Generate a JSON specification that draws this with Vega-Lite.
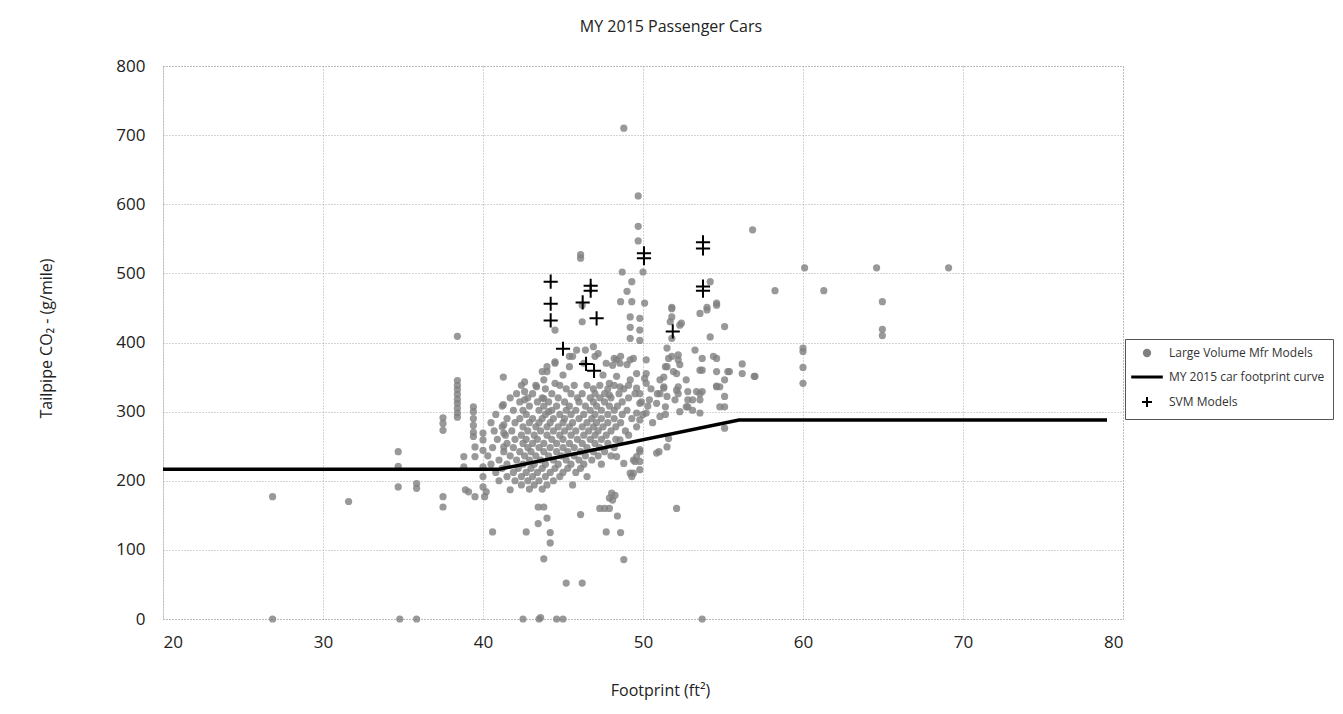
{
  "$schema": "https://vega.github.io/schema/vega-lite/v6.json",
  "width": 960,
  "height": 553,
  "autosize": {"type": "none"},
  "padding": {"left": 163, "top": 66, "right": 220, "bottom": 95},
  "background": "white",
  "config": {
    "view": {"stroke": "#9a9a9a", "strokeDash": [1, 2], "strokeWidth": 1},
    "axis": {
      "grid": true, "gridColor": "#a8a8a8", "gridDash": [1, 2], "gridWidth": 1,
      "ticks": false, "domain": false,
      "labelFont": "Open Sans", "labelFontSize": 17, "labelColor": "#222",
      "titleFont": "Open Sans", "titleFontSize": 16, "titleFontWeight": "normal", "titleColor": "#222"
    },
    "legend": {
      "title": null, "orient": "none", "legendX": 962, "legendY": 273,
      "padding": 8, "strokeColor": "#555", "fillColor": "white",
      "labelFont": "Open Sans", "labelFontSize": 12, "labelColor": "#333", "labelOffset": 16,
      "symbolOffset": 8, "rowPadding": 10
    },
    "title": {"font": "Open Sans", "fontSize": 16, "fontWeight": "normal", "color": "#222"}
  },
  "title": {"text": "MY 2015 Passenger Cars", "offset": 22, "dx": 28},
  "datasets": {
    "lv": [
      {"x":26.85,"y":177},{"x":26.85,"y":0},{"x":31.6,"y":170},{"x":34.7,"y":242},{"x":34.7,"y":221},{"x":34.7,"y":191},{"x":34.8,"y":0},{"x":35.85,"y":0},{"x":35.85,"y":196},{"x":35.85,"y":189},
      {"x":37.5,"y":177},{"x":37.5,"y":162},{"x":37.5,"y":291},{"x":37.5,"y":283},{"x":37.5,"y":273},
      {"x":38.4,"y":409},{"x":38.4,"y":345},{"x":38.4,"y":338},{"x":38.4,"y":332},{"x":38.4,"y":325},{"x":38.4,"y":318},{"x":38.4,"y":312},{"x":38.4,"y":305},{"x":38.4,"y":298},{"x":38.4,"y":292},
      {"x":38.8,"y":235},{"x":38.8,"y":220},{"x":38.9,"y":187},{"x":39.1,"y":184},
      {"x":39.4,"y":307},{"x":39.4,"y":300},{"x":39.4,"y":290},{"x":39.4,"y":280},{"x":39.4,"y":270},{"x":39.4,"y":264},
      {"x":39.5,"y":249},{"x":39.5,"y":235},{"x":39.5,"y":177},{"x":40.0,"y":269},{"x":40.0,"y":259},{"x":40.0,"y":244},{"x":40.0,"y":220},{"x":40.0,"y":206},{"x":40.0,"y":191},{"x":40.2,"y":184},{"x":40.1,"y":177},
      {"x":40.6,"y":126},{"x":41.27,"y":350},{"x":41.27,"y":310},{"x":41.3,"y":281},{"x":41.3,"y":269},{"x":41.3,"y":249},{"x":41.7,"y":187},
      {"x":42.6,"y":343},{"x":42.6,"y":317},{"x":43.35,"y":336},{"x":43.8,"y":319},{"x":43.7,"y":358},{"x":44.0,"y":365},{"x":44.5,"y":418},{"x":44.5,"y":370},{"x":44.1,"y":300},
      {"x":42.7,"y":126},{"x":43.45,"y":162},{"x":43.8,"y":162},{"x":43.45,"y":138},{"x":44.0,"y":146},{"x":44.2,"y":125},{"x":44.2,"y":110},{"x":43.8,"y":87},{"x":45.2,"y":52},{"x":46.2,"y":52},{"x":46.1,"y":151},
      {"x":47.3,"y":160},{"x":47.6,"y":160},{"x":47.9,"y":160},{"x":48.1,"y":172},{"x":47.9,"y":175},{"x":48.25,"y":179},{"x":48.4,"y":149},{"x":47.7,"y":126},{"x":48.6,"y":125},{"x":48.8,"y":86},
      {"x":42.5,"y":0},{"x":43.5,"y":0},{"x":43.6,"y":2},{"x":44.6,"y":0},{"x":45.0,"y":0},{"x":53.7,"y":0},{"x":52.1,"y":160},{"x":51.0,"y":242},{"x":49.8,"y":242},{"x":49.5,"y":228},{"x":49.8,"y":228},{"x":49.4,"y":211},{"x":49.3,"y":206},{"x":48.04,"y":182},
      {"x":48.8,"y":710},{"x":49.7,"y":612},{"x":49.7,"y":568},{"x":49.7,"y":547},{"x":46.1,"y":522},{"x":46.1,"y":527},{"x":48.7,"y":502},{"x":50.0,"y":502},{"x":49.3,"y":488},{"x":49.0,"y":474},{"x":49.3,"y":459},{"x":48.6,"y":459},{"x":50.1,"y":457},{"x":51.8,"y":451},{"x":54.0,"y":451},{"x":54.6,"y":457},{"x":54.2,"y":488},{"x":56.85,"y":563},
      {"x":49.2,"y":437},{"x":49.8,"y":435},{"x":49.8,"y":418},{"x":49.2,"y":422},{"x":49.2,"y":406},{"x":49.8,"y":403},{"x":51.8,"y":449},{"x":51.8,"y":437},{"x":51.7,"y":430},{"x":52.4,"y":428},{"x":52.3,"y":425},{"x":51.8,"y":406},
      {"x":51.5,"y":392},{"x":51.8,"y":380},{"x":52.2,"y":382},{"x":51.5,"y":365},{"x":51.3,"y":350},{"x":52.1,"y":355},{"x":52.3,"y":368},
      {"x":53.25,"y":389},{"x":53.7,"y":377},{"x":53.7,"y":360},{"x":54.6,"y":377},{"x":54.6,"y":358},{"x":54.6,"y":336},{"x":55.1,"y":346},{"x":54.0,"y":447},{"x":54.6,"y":454},{"x":54.2,"y":408},{"x":55.1,"y":423},{"x":53.56,"y":442},{"x":54.4,"y":380},{"x":55.3,"y":358},
      {"x":56.2,"y":369},{"x":56.2,"y":355},{"x":57.0,"y":351},{"x":55.4,"y":358},
      {"x":46.2,"y":430},{"x":46.2,"y":454},{"x":46.9,"y":394},{"x":46.4,"y":389},{"x":45.85,"y":389},{"x":45.4,"y":380},{"x":47.2,"y":384},{"x":48.2,"y":377},{"x":48.6,"y":380},{"x":49.2,"y":375},{"x":47.7,"y":370},{"x":48.1,"y":367},
      {"x":44.0,"y":358},{"x":45.0,"y":353},{"x":45.4,"y":365},{"x":42.6,"y":329},{"x":44.5,"y":341},{"x":43.8,"y":346},
      {"x":51.06,"y":346},{"x":51.06,"y":326},{"x":50.85,"y":312},{"x":51.5,"y":322},{"x":51.3,"y":336},{"x":52.2,"y":326},{"x":52.2,"y":336},
      {"x":53.56,"y":326},{"x":53.56,"y":317},{"x":53.56,"y":298},{"x":50.2,"y":355},{"x":50.2,"y":341},{"x":49.8,"y":326},{"x":49.8,"y":312},{"x":50.2,"y":298},
      {"x":53.1,"y":317},{"x":53.1,"y":302},{"x":52.7,"y":307},{"x":54.8,"y":336},{"x":55.1,"y":322},{"x":55.1,"y":307},{"x":54.8,"y":307},{"x":55.1,"y":276},
      {"x":60.1,"y":508},{"x":64.6,"y":508},{"x":69.1,"y":508},{"x":58.25,"y":475},{"x":61.3,"y":475},{"x":64.96,"y":459},{"x":64.96,"y":419},{"x":64.96,"y":410},{"x":60.0,"y":392},{"x":60.0,"y":364},{"x":60.0,"y":341},{"x":60.0,"y":387},
      {"x":53.35,"y":329},{"x":53.7,"y":329},{"x":51.6,"y":377},{"x":52.2,"y":375},{"x":51.4,"y":365},{"x":51.9,"y":358},{"x":51.3,"y":334},{"x":51.4,"y":307},{"x":52.1,"y":331},{"x":52.0,"y":317},{"x":52.7,"y":346},{"x":52.8,"y":307},
      {"x":50.2,"y":375},{"x":50.1,"y":348},{"x":49.4,"y":377},{"x":49.0,"y":368},{"x":48.35,"y":375},{"x":49.6,"y":355},{"x":49.6,"y":298},{"x":50.4,"y":317},{"x":51.06,"y":293},{"x":49.8,"y":288},
      {"x":51.6,"y":261},{"x":51.5,"y":249},{"x":50.85,"y":240},{"x":49.8,"y":245},{"x":49.6,"y":235},{"x":48.56,"y":259},{"x":48.35,"y":235},{"x":48.8,"y":225},{"x":49.4,"y":230},{"x":49.8,"y":216},{"x":49.2,"y":211},
      {"x":47.0,"y":380},{"x":46.3,"y":370},{"x":45.6,"y":380},{"x":44.5,"y":372},{"x":48.56,"y":370},{"x":48.35,"y":351},{"x":47.5,"y":353},{"x":47.9,"y":341},{"x":48.56,"y":336},{"x":49.2,"y":346},{"x":49.6,"y":334},{"x":47.9,"y":324},
      {"x":56.95,"y":351},{"x":54.6,"y":337},{"x":53.56,"y":360},{"x":52.8,"y":329},{"x":52.3,"y":300},{"x":52.8,"y":317},
      {"x":42.4,"y":338},{"x":43.3,"y":338},{"x":44.8,"y":338},{"x":45.7,"y":338},{"x":46.5,"y":338},{"x":47.3,"y":338},{"x":48.2,"y":338},{"x":49.1,"y":338},
      {"x":43.9,"y":333},{"x":45.2,"y":333},{"x":46.9,"y":333},{"x":47.8,"y":333},{"x":48.8,"y":333},{"x":50.5,"y":333},
      {"x":42.1,"y":326},{"x":43.1,"y":326},{"x":44.3,"y":326},{"x":45.5,"y":326},{"x":46.2,"y":326},{"x":47.0,"y":326},{"x":47.6,"y":326},{"x":48.5,"y":326},{"x":49.5,"y":326},{"x":50.9,"y":326},
      {"x":41.7,"y":320},{"x":42.8,"y":320},{"x":43.7,"y":320},{"x":44.7,"y":320},{"x":45.9,"y":320},{"x":46.7,"y":320},{"x":47.3,"y":320},{"x":48.0,"y":320},{"x":49.1,"y":320},
      {"x":42.3,"y":314},{"x":43.4,"y":314},{"x":44.1,"y":314},{"x":45.1,"y":314},{"x":46.0,"y":314},{"x":46.9,"y":314},{"x":47.6,"y":314},{"x":48.7,"y":314},{"x":49.9,"y":314},
      {"x":41.2,"y":308},{"x":42.9,"y":308},{"x":43.8,"y":308},{"x":44.6,"y":308},{"x":45.4,"y":308},{"x":46.4,"y":308},{"x":47.1,"y":308},{"x":47.9,"y":308},{"x":48.4,"y":308},{"x":50.3,"y":308},
      {"x":41.9,"y":302},{"x":42.5,"y":302},{"x":43.5,"y":302},{"x":44.3,"y":302},{"x":45.2,"y":302},{"x":45.8,"y":302},{"x":46.7,"y":302},{"x":47.4,"y":302},{"x":48.2,"y":302},{"x":49.0,"y":302},
      {"x":40.8,"y":296},{"x":42.7,"y":296},{"x":43.9,"y":296},{"x":44.8,"y":296},{"x":45.5,"y":296},{"x":46.3,"y":296},{"x":47.0,"y":296},{"x":47.8,"y":296},{"x":48.7,"y":296},{"x":50.0,"y":296},{"x":51.4,"y":296},
      {"x":41.5,"y":290},{"x":42.3,"y":290},{"x":43.1,"y":290},{"x":43.7,"y":290},{"x":44.4,"y":290},{"x":45.1,"y":290},{"x":46.0,"y":290},{"x":46.8,"y":290},{"x":47.4,"y":290},{"x":48.2,"y":290},{"x":49.3,"y":290},
      {"x":40.5,"y":284},{"x":42.0,"y":284},{"x":42.9,"y":284},{"x":43.5,"y":284},{"x":44.2,"y":284},{"x":45.0,"y":284},{"x":45.6,"y":284},{"x":46.5,"y":284},{"x":47.1,"y":284},{"x":47.8,"y":284},{"x":48.6,"y":284},{"x":50.6,"y":284},
      {"x":41.2,"y":278},{"x":42.5,"y":278},{"x":43.3,"y":278},{"x":44.0,"y":278},{"x":44.7,"y":278},{"x":45.4,"y":278},{"x":46.2,"y":278},{"x":46.9,"y":278},{"x":47.5,"y":278},{"x":48.3,"y":278},{"x":49.6,"y":278},
      {"x":40.7,"y":272},{"x":41.8,"y":272},{"x":42.8,"y":272},{"x":43.6,"y":272},{"x":44.4,"y":272},{"x":45.1,"y":272},{"x":45.8,"y":272},{"x":46.6,"y":272},{"x":47.2,"y":272},{"x":48.0,"y":272},{"x":48.9,"y":272},
      {"x":41.4,"y":266},{"x":42.4,"y":266},{"x":43.2,"y":266},{"x":44.0,"y":266},{"x":44.8,"y":266},{"x":45.5,"y":266},{"x":46.3,"y":266},{"x":47.0,"y":266},{"x":47.7,"y":266},{"x":49.1,"y":266},
      {"x":40.9,"y":260},{"x":42.0,"y":260},{"x":42.7,"y":260},{"x":43.4,"y":260},{"x":44.3,"y":260},{"x":45.0,"y":260},{"x":45.9,"y":260},{"x":46.7,"y":260},{"x":47.4,"y":260},{"x":48.3,"y":260},
      {"x":41.5,"y":254},{"x":42.5,"y":254},{"x":43.1,"y":254},{"x":43.8,"y":254},{"x":44.6,"y":254},{"x":45.4,"y":254},{"x":46.2,"y":254},{"x":47.0,"y":254},{"x":47.8,"y":254},
      {"x":40.6,"y":248},{"x":41.9,"y":248},{"x":42.8,"y":248},{"x":43.5,"y":248},{"x":44.2,"y":248},{"x":45.0,"y":248},{"x":45.7,"y":248},{"x":46.5,"y":248},{"x":47.3,"y":248},{"x":48.2,"y":248},
      {"x":41.3,"y":242},{"x":42.3,"y":242},{"x":43.0,"y":242},{"x":43.8,"y":242},{"x":44.6,"y":242},{"x":45.3,"y":242},{"x":46.1,"y":242},{"x":46.9,"y":242},{"x":47.6,"y":242},
      {"x":40.3,"y":236},{"x":41.7,"y":236},{"x":42.6,"y":236},{"x":43.3,"y":236},{"x":44.1,"y":236},{"x":44.9,"y":236},{"x":45.7,"y":236},{"x":46.4,"y":236},{"x":47.2,"y":236},{"x":48.0,"y":236},
      {"x":41.0,"y":230},{"x":42.1,"y":230},{"x":42.9,"y":230},{"x":43.6,"y":230},{"x":44.4,"y":230},{"x":45.2,"y":230},{"x":46.0,"y":230},{"x":46.8,"y":230},
      {"x":40.5,"y":224},{"x":41.5,"y":224},{"x":42.5,"y":224},{"x":43.2,"y":224},{"x":43.9,"y":224},{"x":44.7,"y":224},{"x":45.5,"y":224},{"x":46.3,"y":224},{"x":47.4,"y":224},
      {"x":41.2,"y":218},{"x":42.2,"y":218},{"x":43.0,"y":218},{"x":43.7,"y":218},{"x":44.5,"y":218},{"x":45.3,"y":218},{"x":46.1,"y":218},
      {"x":40.8,"y":212},{"x":41.9,"y":212},{"x":42.7,"y":212},{"x":43.4,"y":212},{"x":44.2,"y":212},{"x":45.0,"y":212},{"x":45.8,"y":212},
      {"x":41.5,"y":206},{"x":42.4,"y":206},{"x":43.1,"y":206},{"x":43.9,"y":206},{"x":44.8,"y":206},{"x":46.5,"y":206},
      {"x":41.0,"y":200},{"x":42.0,"y":200},{"x":42.8,"y":200},{"x":43.5,"y":200},{"x":44.4,"y":200},
      {"x":42.4,"y":194},{"x":43.2,"y":194},{"x":44.0,"y":194},{"x":45.6,"y":194},
      {"x":42.9,"y":188},{"x":43.7,"y":188}
    ],
    "curve": [
      {"x":20,"y":216.6},{"x":41,"y":216.6},{"x":56,"y":288},{"x":79,"y":288}
    ],
    "svm": [
      {"x":44.23,"y":488},{"x":44.23,"y":456},{"x":44.23,"y":432},{"x":46.73,"y":482},{"x":46.73,"y":475},{"x":46.23,"y":458},{"x":47.1,"y":435},{"x":45.0,"y":391},{"x":46.44,"y":369},{"x":46.94,"y":359},
      {"x":50.06,"y":529},{"x":50.06,"y":522},{"x":53.75,"y":545},{"x":53.75,"y":536},{"x":53.75,"y":481},{"x":53.75,"y":475},{"x":51.86,"y":416}
    ]
  },
  "layer": [
    {
      "data": {"name": "lv"},
      "mark": {"type": "point", "filled": true, "shape": "circle", "size": 52, "opacity": 0.8, "color": "#7f7f7f"},
      "encoding": {
        "x": {"field": "x", "type": "quantitative", "scale": {"domain": [20, 80], "nice": false, "zero": false},
              "axis": {"values": [20,30,40,50,60,70,80], "labelPadding": 15, "title": "Footprint (ft²)", "titleX": 497, "titleY": 71, "titleBaseline": "middle"}},
        "y": {"field": "y", "type": "quantitative", "scale": {"domain": [0, 800], "nice": false},
              "axis": {"values": [0,100,200,300,400,500,600,700,800], "labelPadding": 18, "title": "Tailpipe CO₂ - (g/mile)", "titleX": -117, "titleY": 272, "titleBaseline": "middle"}},
        "color": {
          "datum": "Large Volume Mfr Models",
          "scale": {"domain": ["Large Volume Mfr Models", "MY 2015 car footprint curve", "SVM Models"], "range": ["#7f7f7f", "#000000", "#000000"]},
          "legend": {
            "encode": {
              "symbols": {"update": {
                "shape": {"signal": "datum.value === 'MY 2015 car footprint curve' ? 'stroke' : datum.value === 'SVM Models' ? 'M-1,0H1M0,-1V1' : 'circle'"},
                "size": {"signal": "datum.value === 'MY 2015 car footprint curve' ? 1000 : datum.value === 'SVM Models' ? 100 : 40"},
                "strokeWidth": {"signal": "datum.value === 'MY 2015 car footprint curve' ? 3 : 2"},
                "stroke": {"signal": "datum.value === 'Large Volume Mfr Models' ? '#7f7f7f' : '#000000'"},
                "fill": {"signal": "datum.value === 'Large Volume Mfr Models' ? '#7f7f7f' : 'transparent'"},
                "opacity": {"value": 1}
              }}
            }
          }
        }
      }
    },
    {
      "data": {"name": "curve"},
      "mark": {"type": "line", "strokeWidth": 3.5},
      "encoding": {
        "x": {"field": "x", "type": "quantitative"},
        "y": {"field": "y", "type": "quantitative"},
        "color": {"datum": "MY 2015 car footprint curve",
          "legend": {
            "encode": {
              "symbols": {"update": {
                "shape": {"signal": "datum.value === 'MY 2015 car footprint curve' ? 'stroke' : datum.value === 'SVM Models' ? 'M-1,0H1M0,-1V1' : 'circle'"},
                "size": {"signal": "datum.value === 'MY 2015 car footprint curve' ? 1000 : datum.value === 'SVM Models' ? 100 : 40"},
                "strokeWidth": {"signal": "datum.value === 'MY 2015 car footprint curve' ? 3 : 2"},
                "stroke": {"signal": "datum.value === 'Large Volume Mfr Models' ? '#7f7f7f' : '#000000'"},
                "fill": {"signal": "datum.value === 'Large Volume Mfr Models' ? '#7f7f7f' : 'transparent'"},
                "opacity": {"value": 1}
              }}
            }
          }}
      }
    },
    {
      "data": {"name": "svm"},
      "mark": {"type": "point", "filled": false, "shape": "M-1,0H1M0,-1V1", "size": 200, "strokeWidth": 2, "opacity": 1},
      "encoding": {
        "x": {"field": "x", "type": "quantitative"},
        "y": {"field": "y", "type": "quantitative"},
        "color": {"datum": "SVM Models",
          "legend": {
            "encode": {
              "symbols": {"update": {
                "shape": {"signal": "datum.value === 'MY 2015 car footprint curve' ? 'stroke' : datum.value === 'SVM Models' ? 'M-1,0H1M0,-1V1' : 'circle'"},
                "size": {"signal": "datum.value === 'MY 2015 car footprint curve' ? 1000 : datum.value === 'SVM Models' ? 100 : 40"},
                "strokeWidth": {"signal": "datum.value === 'MY 2015 car footprint curve' ? 3 : 2"},
                "stroke": {"signal": "datum.value === 'Large Volume Mfr Models' ? '#7f7f7f' : '#000000'"},
                "fill": {"signal": "datum.value === 'Large Volume Mfr Models' ? '#7f7f7f' : 'transparent'"},
                "opacity": {"value": 1}
              }}
            }
          }}
      }
    }
  ]
}
